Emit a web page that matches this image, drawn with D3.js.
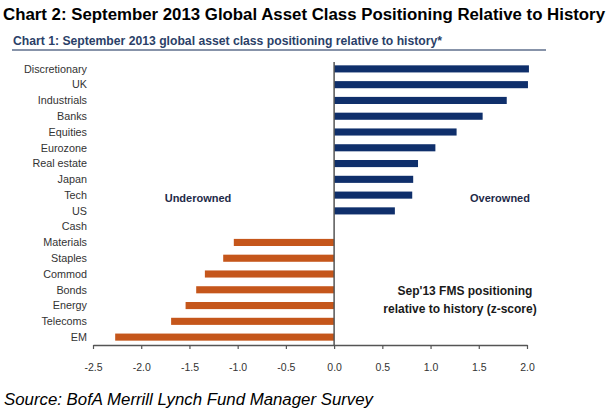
<!DOCTYPE html>
<html>
<head>
<meta charset="utf-8">
<script src="https://cdn.jsdelivr.net/npm/d3@7"></script>
<style>
  body { margin: 0; background: #fff; }
  svg { display: block; font-family: "Liberation Sans", Arial, sans-serif; }
</style>
</head>
<body>
<div id="chart"></div>
<script>
var categories = ['Discretionary','UK','Industrials','Banks','Equities','Eurozone','Real estate','Japan','Tech','US',
                  'Cash','Materials','Staples','Commod','Bonds','Energy','Telecoms','EM'];
var zscores = [2.02, 2.01, 1.79, 1.54, 1.27, 1.05, 0.87, 0.82, 0.81, 0.63,
               0, -1.04, -1.15, -1.34, -1.43, -1.54, -1.69, -2.27];
var tick_values = [-2.5, -2.0, -1.5, -1.0, -0.5, 0.0, 0.5, 1.0, 1.5, 2.0];

var w = 611, h = 412;
var blue = '#0f2f6b', orange = '#c5561b';

var svg = d3.select('#chart').append('svg')
            .attr('width', w)
            .attr('height', h);

// titles
svg.append('text')
   .attr('x', 3).attr('y', 20)
   .attr('font-size', 16).attr('font-weight', 'bold')
   .attr('textLength', 602).attr('lengthAdjust', 'spacingAndGlyphs')
   .text('Chart 2: September 2013 Global Asset Class Positioning Relative to History');

svg.append('text')
   .attr('x', 13).attr('y', 45)
   .attr('font-size', 12).attr('font-weight', 'bold')
   .attr('fill', '#2b3f68')
   .attr('textLength', 429).attr('lengthAdjust', 'spacingAndGlyphs')
   .text('Chart 1: September 2013 global asset class positioning relative to history*');

svg.append('line')
   .attr('x1', 12).attr('x2', 546).attr('y1', 50).attr('y2', 50)
   .attr('stroke', '#5f6f8c').attr('stroke-width', 1.5);

var xScale = d3.scaleLinear().domain([-2.5, 2]).range([93, 527]);
var yScale = d3.scaleBand().domain(categories).range([61, 345]).paddingInner(0.55).paddingOuter(0.275);

// bars
svg.selectAll('rect.bar')
   .data(categories)
   .enter().append('rect')
   .attr('class', 'bar')
   .attr('x', function(d, i) { return xScale(Math.min(0, zscores[i])); })
   .attr('y', function(d) { return yScale(d); })
   .attr('width', function(d, i) { return Math.abs(xScale(zscores[i]) - xScale(0)); })
   .attr('height', yScale.bandwidth())
   .attr('fill', function(d, i) { return zscores[i] >= 0 ? blue : orange; });

// category labels
svg.selectAll('text.cat')
   .data(categories)
   .enter().append('text')
   .attr('class', 'cat')
   .attr('x', 87)
   .attr('y', function(d) { return yScale(d) + yScale.bandwidth() / 2; })
   .attr('dy', '0.35em')
   .attr('text-anchor', 'end')
   .attr('font-size', 10.8)
   .attr('fill', '#333')
   .text(function(d) { return d; });

// zero line
svg.append('line')
   .attr('x1', xScale(0)).attr('x2', xScale(0))
   .attr('y1', 62).attr('y2', 345)
   .attr('stroke', '#555').attr('stroke-width', 1.5);

// x axis
var xAxis = d3.axisBottom(xScale)
              .tickValues(tick_values)
              .tickSize(4)
              .tickSizeOuter(0)
              .tickPadding(15)
              .tickFormat(function(d) { return d.toFixed(1); });

var gx = svg.append('g')
            .attr('transform', 'translate(0,345)')
            .call(xAxis);
gx.select('.domain').attr('stroke', '#555').attr('stroke-width', 1.5);
gx.selectAll('.tick line').attr('stroke', '#555').attr('stroke-width', 1.2);
gx.selectAll('.tick text')
  .attr('font-size', 10.5)
  .attr('font-family', '"Liberation Sans", Arial, sans-serif')
  .attr('fill', '#333');

// annotations
svg.append('text')
   .attr('x', 198).attr('y', 202)
   .attr('text-anchor', 'middle')
   .attr('font-size', 11).attr('font-weight', 'bold')
   .attr('fill', '#1e2a48')
   .text('Underowned');

svg.append('text')
   .attr('x', 500).attr('y', 202)
   .attr('text-anchor', 'middle')
   .attr('font-size', 11).attr('font-weight', 'bold')
   .attr('fill', '#1e2a48')
   .text('Overowned');

svg.append('text')
   .attr('x', 465).attr('y', 295)
   .attr('text-anchor', 'middle')
   .attr('font-size', 12).attr('font-weight', 'bold')
   .attr('fill', '#1a1a1a')
   .text("Sep'13 FMS positioning");

svg.append('text')
   .attr('x', 460).attr('y', 313)
   .attr('text-anchor', 'middle')
   .attr('font-size', 12).attr('font-weight', 'bold')
   .attr('fill', '#1a1a1a')
   .text('relative to history (z-score)');

// source
svg.append('text')
   .attr('x', 4).attr('y', 405)
   .attr('font-size', 16).attr('font-style', 'italic')
   .attr('fill', '#000')
   .attr('textLength', 369).attr('lengthAdjust', 'spacingAndGlyphs')
   .text('Source: BofA Merrill Lynch Fund Manager Survey');
</script>
</body>
</html>
